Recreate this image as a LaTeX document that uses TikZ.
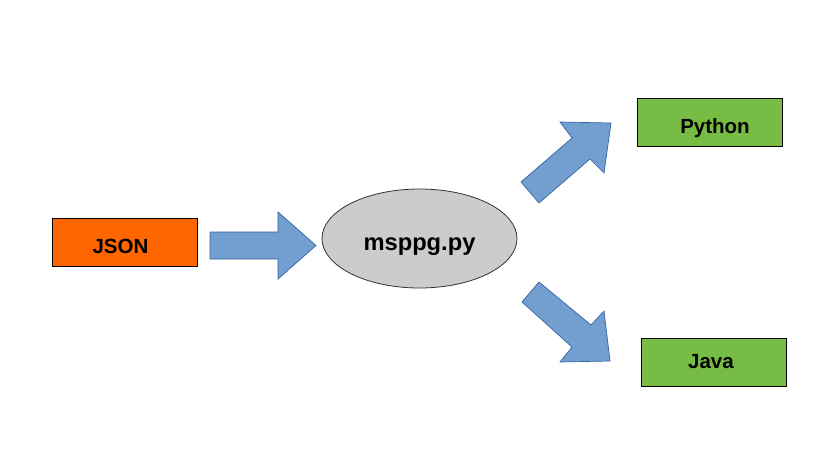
\documentclass[tikz,border=0pt]{standalone}
\usepackage{fontspec}
\setmainfont{Liberation Sans}
\usetikzlibrary{shapes.geometric}
\definecolor{jsonorange}{HTML}{FF6600}
\definecolor{langgreen}{HTML}{77BC44}
\definecolor{arrowfill}{HTML}{729FCF}
\definecolor{arrowline}{HTML}{3465A4}
\definecolor{ellgray}{HTML}{CCCCCC}
\tikzset{
  box/.style={draw=black, line width=0.9pt, minimum width=145pt, minimum height=48pt, inner sep=0pt,
    font=\fontsize{20.5}{24}\selectfont\bfseries},
  blockarrow/.style={fill=arrowfill, draw=arrowline, line width=0.7pt, line join=miter},
}
\begin{document}
\begin{tikzpicture}[x=1pt,y=-1pt]
\useasboundingbox[fill=white] (0,0) rectangle (828,461);
\node[box, fill=jsonorange] (json) at (124.5,242) {\raisebox{-11pt}[0pt][0pt]{JSON}\hspace*{8pt}};
\node[box, fill=langgreen] (python) at (710,122.5) {\hspace*{10pt}\raisebox{-10.5pt}[0pt][0pt]{Python}};
\node[box, fill=langgreen] (java) at (714,362) {\raisebox{-6pt}[0pt][0pt]{Java}\hspace*{6pt}};
\node[ellipse, draw=black!80, line width=0.8pt, fill=ellgray, minimum width=195pt, minimum height=99pt,
  inner sep=0pt, font=\fontsize{23.7}{28}\selectfont\bfseries] (prog) at (419.5,238.5) {\raisebox{-11.5pt}[0pt][0pt]{msppg.py}};
% block arrows
\draw[blockarrow] (210,232) -- (278,232) -- (278,212) -- (316,245.5) -- (278,279) -- (278,259) -- (210,259) -- cycle;
\draw[blockarrow] (521,182) -- (572,138) -- (560,122) -- (611,123) -- (604,173) -- (590,159) -- (539,203) -- cycle;
\draw[blockarrow] (539,282) -- (591,325) -- (604,311) -- (610,361) -- (560,362) -- (572,347) -- (522,302) -- cycle;
\end{tikzpicture}
\end{document}
